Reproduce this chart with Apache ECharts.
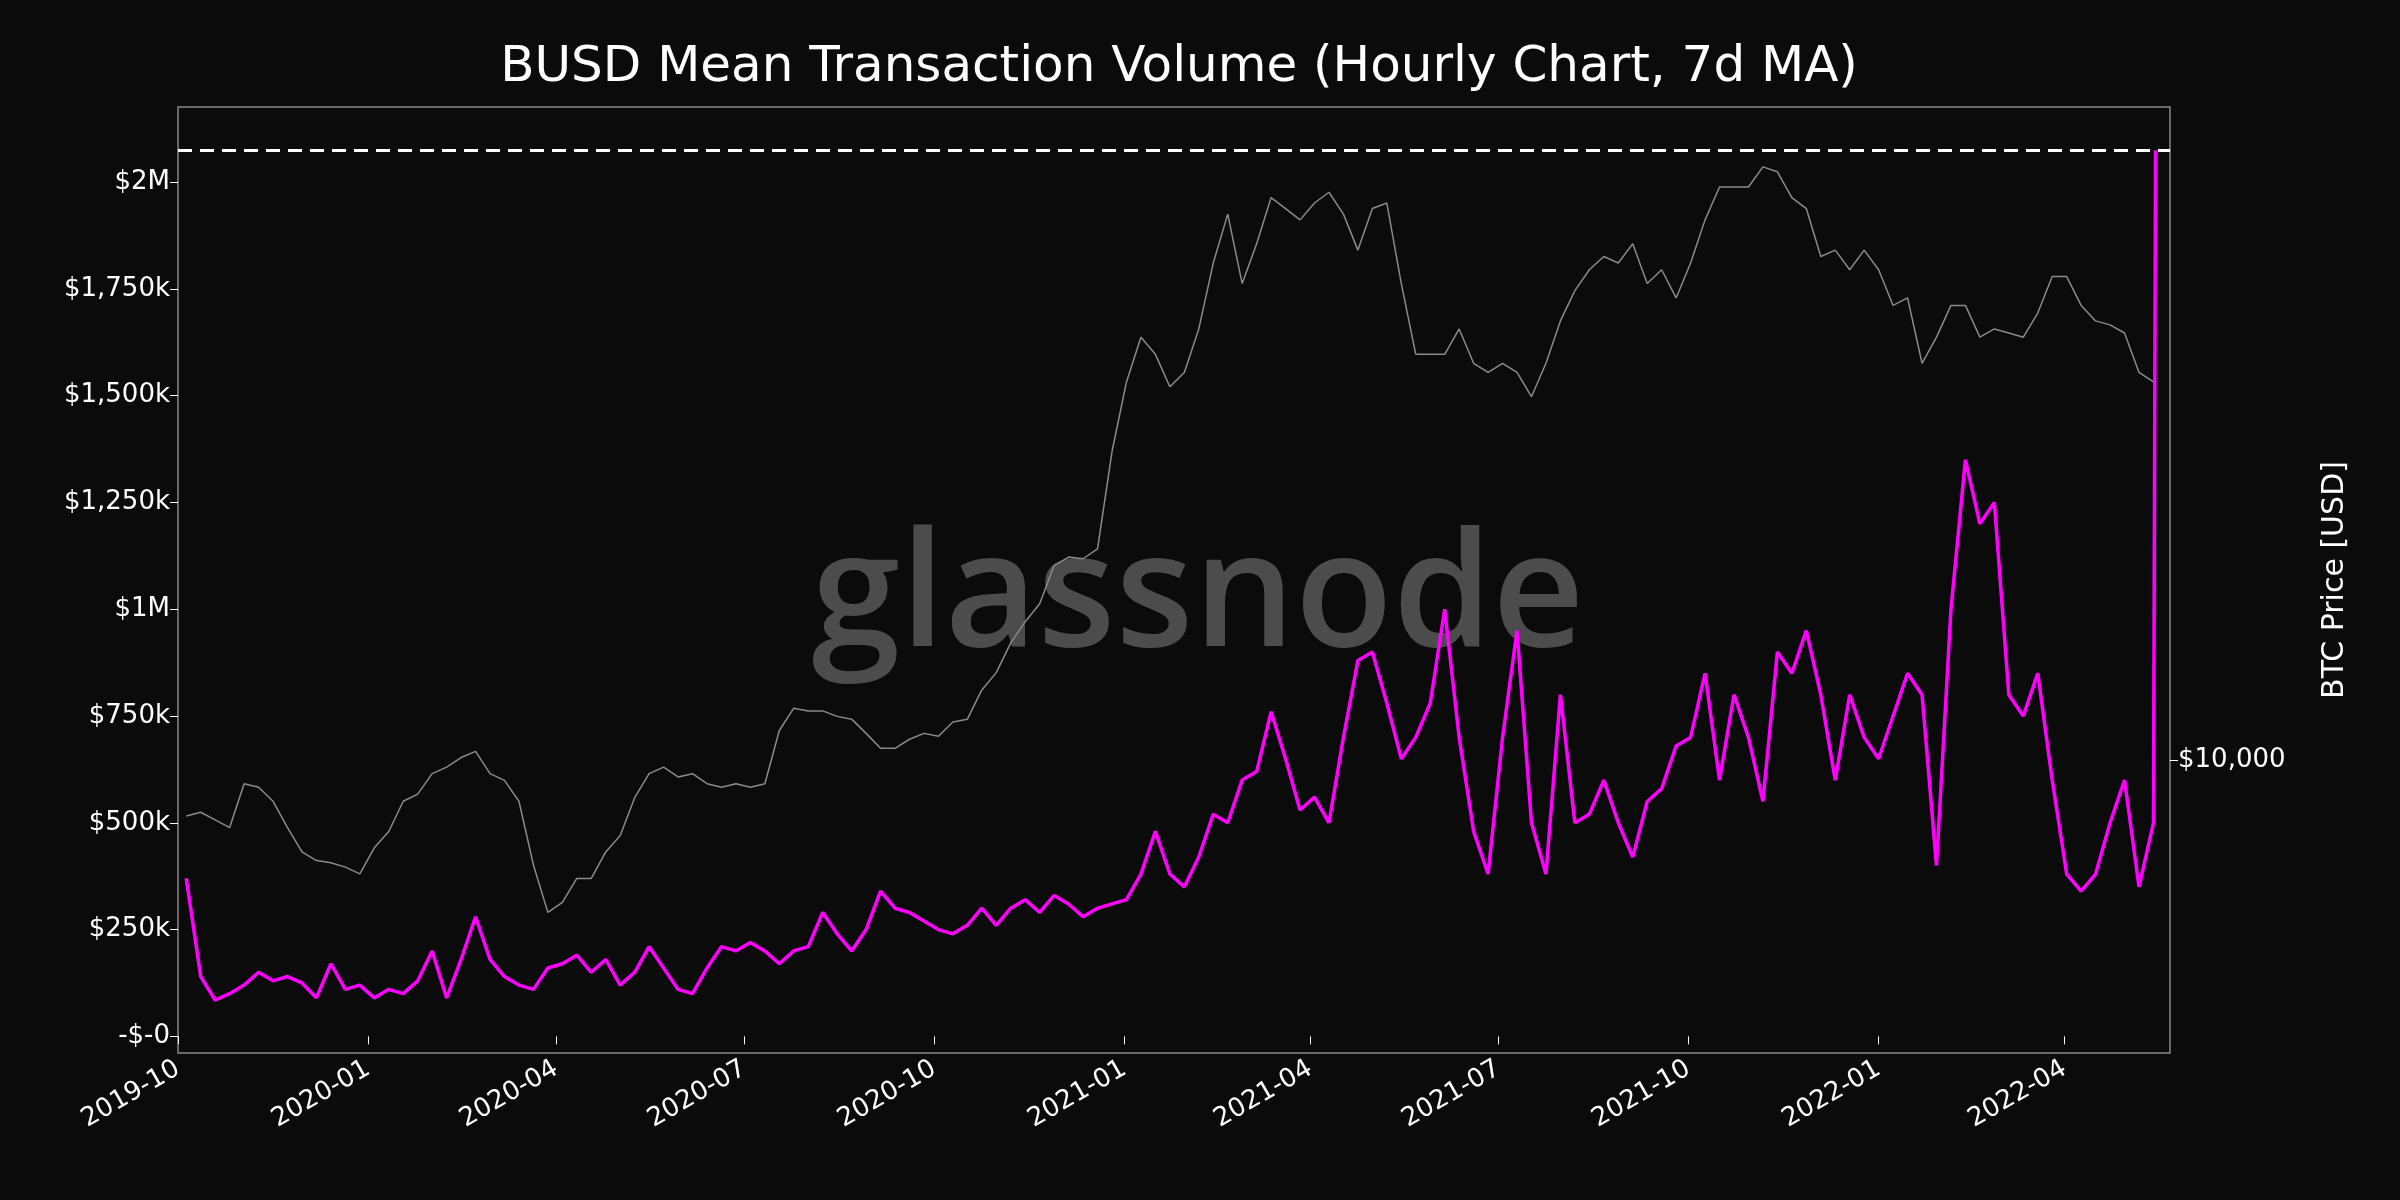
<!DOCTYPE html>
<html><head><meta charset="utf-8">
<script src="https://cdn.jsdelivr.net/npm/echarts@6/dist/echarts.min.js"></script>
<style>html,body{margin:0;padding:0;background:#0b0b0b}#c{width:2400px;height:1200px}</style>
</head><body><div id="c"></div>
<script>
// weekly samples starting 2019-10-05
const startDate = '2019-10-05';
const stepDays = 7;
const busdVolumeK = [370,140,85,100,120,150,130,140,125,90,170,110,120,90,110,100,130,200,90,180,
280,180,140,120,110,160,170,190,150,180,120,150,210,160,110,100,160,210,200,220,
200,170,200,210,290,240,200,250,340,300,290,270,250,240,260,300,260,300,320,290,
330,310,280,300,310,320,380,480,380,350,420,520,500,600,620,760,650,530,560,500,
700,880,900,780,650,700,780,1000,700,480,380,700,950,500,380,800,500,520,600,500,
420,550,580,680,700,850,600,800,700,550,900,850,950,800,600,800,700,650,750,850,
800,400,1000,1350,1200,1250,800,750,850,600,380,340,380,500,600,350,500];
const spikeDate = '2022-05-15';
const spikeValueK = 2075;
const btcPrice = [8400,8500,8300,8100,9300,9200,8800,8100,7500,7300,7250,7150,7000,7600,8000,8800,9000,9600,9800,10100,
10300,9600,9400,8800,7200,6200,6400,6900,6900,7500,7900,8900,9600,9800,9500,9600,9300,9200,9300,9200,
9300,11000,11800,11700,11700,11500,11400,10900,10400,10400,10700,10900,10800,11300,11400,12500,13200,14500,15500,16400,
18500,19000,18900,19500,26500,33000,38000,36000,32500,34000,39000,48000,56000,45000,51000,59000,57000,55000,58000,60000,
56000,50000,57000,58000,45000,36000,36000,36000,39000,35000,34000,35000,34000,31500,35000,40000,44000,47000,49000,48000,
51000,45000,47000,43000,48000,55000,61000,61000,61000,65000,64000,59000,57000,49000,50000,47000,50000,47000,42000,43000,
35000,38000,42000,42000,38000,39000,38500,38000,41000,46000,46000,42000,40000,39500,38500,34000,33000];
const maxLineK = 2075;
const leftTicksK = [0,250,500,750,1000,1250,1500,1750,2000];
const leftTickLabels = ['-$-0','$250k','$500k','$750k','$1M','$1,250k','$1,500k','$1,750k','$2M'];
const xTickLabels = ['2019-10','2020-01','2020-04','2020-07','2020-10','2021-01','2021-04','2021-07','2021-10','2022-01','2022-04'];

const DAY = 86400000;
const t0 = Date.parse(startDate + 'T00:00:00Z');
const busdData = busdVolumeK.map((v,i)=>[t0 + i*stepDays*DAY, v]);
busdData.push([Date.parse(spikeDate+'T00:00:00Z'), spikeValueK]);
const btcData = btcPrice.map((v,i)=>[t0 + i*stepDays*DAY, v]);
const xTicks = xTickLabels.map(s=>Date.parse(s+'-01T00:00:00Z'));

const font = 'DejaVu Sans';
const chart = echarts.init(document.getElementById('c'));
chart.setOption({
  backgroundColor:'#0b0b0b',
  animation:false,
  title:{text:'BUSD Mean Transaction Volume (Hourly Chart, 7d MA)',left:1174,textAlign:'center',top:38,
    textStyle:{color:'#fff',fontFamily:font,fontSize:50,fontWeight:'normal'}},
  grid:{left:178,right:230,top:107,bottom:147,show:true,borderColor:'#888',borderWidth:1.5},
  graphic:[{type:'text',x:1198,y:600,z:0,
    style:{text:'glassnode',fill:'rgba(120,120,120,0.6)',font:'600 160px "Open Sans"',align:'center',verticalAlign:'middle'}}],
  xAxis:{type:'value',min:Date.parse('2019-10-01T00:00:00Z'),max:Date.parse('2022-05-22T00:00:00Z'),
    splitLine:{show:false},axisLine:{show:false},
    axisTick:{show:true,length:8,lineStyle:{color:'#fff'},customValues:xTicks},
    axisLabel:{color:'#fff',fontFamily:font,fontSize:26,rotate:30,margin:14,customValues:xTicks,
      formatter:v=>{const d=new Date(v);return d.getUTCFullYear()+'-'+String(d.getUTCMonth()+1).padStart(2,'0');}}},
  yAxis:[
    {type:'value',min:-39,max:2176,splitLine:{show:false},axisLine:{show:false},
     axisTick:{show:true,length:8,lineStyle:{color:'#fff'},customValues:leftTicksK},
     axisLabel:{color:'#fff',fontFamily:font,fontSize:26,customValues:leftTicksK,
       formatter:v=>leftTickLabels[leftTicksK.indexOf(v)]}},
    {type:'log',logBase:10,min:3980,max:78500,position:'right',splitLine:{show:false},axisLine:{show:false},
     name:'BTC Price [USD]',nameLocation:'middle',nameGap:150,nameRotate:90,
     nameTextStyle:{color:'#fff',fontFamily:font,fontSize:30},
     axisTick:{show:true,length:8,lineStyle:{color:'#fff'},customValues:[10000]},
     axisLabel:{color:'#fff',fontFamily:font,fontSize:26,customValues:[10000],formatter:()=>'$10,000'}}
  ],
  series:[
    {type:'line',yAxisIndex:1,data:btcData,showSymbol:false,lineStyle:{color:'#8a8a8a',width:1.5},z:2},
    {type:'line',yAxisIndex:0,data:busdData,showSymbol:false,lineStyle:{color:'#ff00ff',width:3.5},z:3,
     markLine:{symbol:'none',silent:true,label:{show:false},
       lineStyle:{color:'#fff',type:[14,8],width:3},data:[{yAxis:maxLineK}]}}
  ]
});
</script></body></html>
